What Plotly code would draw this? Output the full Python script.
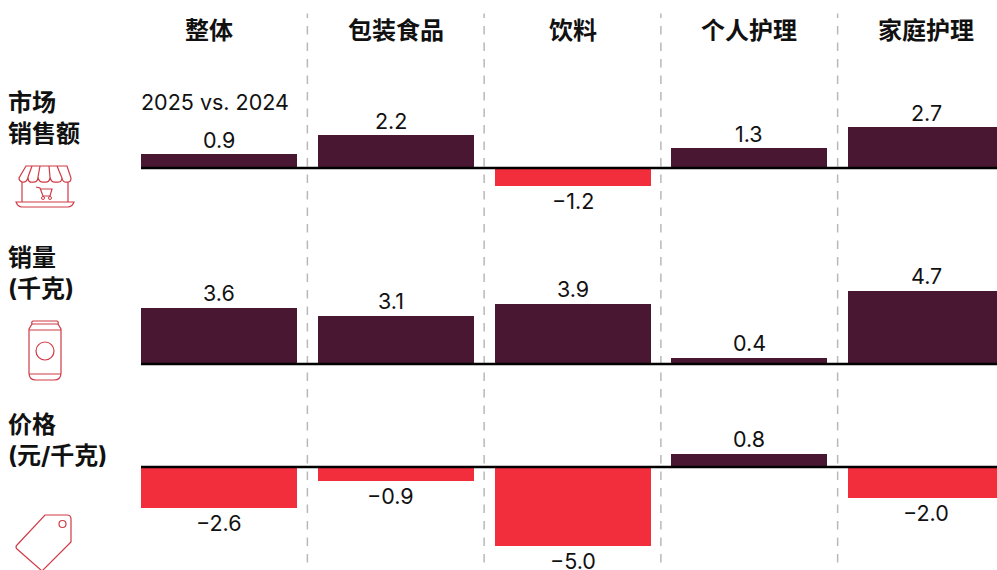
import plotly.graph_objects as go

# Chart data
categories = ["整体", "包装食品", "饮料", "个人护理", "家庭护理"]
market_sales = [0.9, 2.2, -1.2, 1.3, 2.7]
volume = [3.6, 3.1, 3.9, 0.4, 4.7]
price = [-2.6, -0.9, -5.0, 0.8, -2.0]
row_labels = ["市场<br>销售额", "销量<br>(千克)", "价格<br>(元/千克)"]
note = "2025 vs. 2024"

W, H = 997, 570
DARK, RED, ICON = "#4a1733", "#f22e3c", "#cf3a46"
LATIN = "Inter, 'Noto Sans CJK SC', sans-serif"
CJK = "'Noto Sans CJK SC', sans-serif"
INK = "#111111"
RULE = "#b8b8b8"

# Layout of the grid, in page pixels
COL_CENTER, COL_PITCH = 219.0, 176.75
PLOT_LEFT = 141
# values, band top, band bottom, baseline, pixels per unit, label offset
rows = [
    (market_sales, 60, 231, 168, 15.2, -1),
    (volume, 231, 401, 364, 15.5, 0),
    (price, 401, 570, 467, 15.7, 0),
]


def px(x, y):
    return x / W, 1 - y / H


def path(*parts):
    """Build an SVG path from commands and (x, y) page-pixel tuples."""
    out = []
    for part in parts:
        if isinstance(part, str):
            out.append(part)
        else:
            a, b = px(*part)
            out.append(f"{a:.5f},{b:.5f}")
    return " ".join(out)


def outline(d, width=1.2):
    return dict(type="path", xref="paper", yref="paper", path=d,
                line=dict(color=ICON, width=width), layer="above")


def ring(cx, cy, r, width=1.2):
    x0, y1 = px(cx - r, cy - r)
    x1, y0 = px(cx + r, cy + r)
    return dict(type="circle", xref="paper", yref="paper", x0=x0, x1=x1, y0=y0, y1=y1,
                line=dict(color=ICON, width=width), layer="above")


def fmt(v):
    return f"{v:.1f}".replace("-", "−")


fig = go.Figure()
x_idx = list(range(len(categories)))
layout_axes = {}
shapes = []
annotations = []

for i, (vals, top, bottom, zero, scale, nudge) in enumerate(rows):
    name = "" if i == 0 else str(i + 1)
    fig.add_trace(go.Bar(
        x=x_idx, y=vals, yaxis=f"y{name}",
        marker=dict(color=[DARK if v >= 0 else RED for v in vals], line_width=0),
        width=156 / COL_PITCH,
        showlegend=False, hoverinfo="skip",
    ))
    layout_axes[f"yaxis{name}"] = dict(
        domain=[1 - bottom / H, 1 - top / H],
        range=[(zero - bottom) / scale, (zero - top) / scale],
        anchor="x", visible=False, fixedrange=True,
    )
    # Baseline running from the first column to the right edge
    shapes.append(dict(type="line", xref="x domain", yref=f"y{name}", x0=0, x1=1, y0=0, y1=0,
                       line=dict(color="#000000", width=2.3), layer="above"))
    # Value labels sit just outside the bar end; the second column's are set a little left
    for j, v in enumerate(vals):
        annotations.append(dict(
            xref="x", yref=f"y{name}", x=j, y=v, text=fmt(v), showarrow=False,
            xanchor="center", yanchor="bottom" if v >= 0 else "top",
            xshift=-5 if j == 1 else 0, yshift=nudge if v >= 0 else 0,
            font=dict(family=LATIN, size=21.5, color=INK),
        ))

# Dashed separators between the columns, each opening with a short stub
for i in range(len(categories) - 1):
    shapes.append(dict(type="line", xref="x", yref="paper", x0=i + 0.5, x1=i + 0.5,
                       y0=1 - 13.5 / H, y1=1 - 18 / H,
                       line=dict(color=RULE, width=1.5), layer="below"))
    shapes.append(dict(type="line", xref="x", yref="paper", x0=i + 0.5, x1=i + 0.5,
                       y0=1 - 26 / H, y1=0,
                       line=dict(color=RULE, width=1.5, dash="8.5px,8px"), layer="below"))

# Storefront icon
shapes += [
    outline(path("M", (26, 166), "L", (67, 166), "L", (71, 178),
                 "Q", (71, 182), (68, 182), "Q", (62.5, 183), (62, 178),
                 "Q", (62, 183), (56, 182), "Q", (51, 183), (50, 177),
                 "Q", (50, 183), (44, 182), "Q", (39, 183), (38, 177),
                 "Q", (38, 183), (32, 182), "Q", (28, 183), (28, 177),
                 "Q", (27, 183), (22, 182), "Q", (19, 181), (19, 178), "Z")),
    outline(path("M", (32, 166), "L", (28, 177), "M", (40, 166), "L", (38, 177),
                 "M", (49, 166), "L", (50, 177), "M", (57, 166), "L", (62, 178))),
    outline(path("M", (22, 182), "L", (22, 202), "M", (68, 182), "L", (68, 202))),
    outline(path("M", (16, 202), "L", (74, 202), "Q", (72, 207), (68, 207), "L", (22, 207),
                 "Q", (18, 207), (16, 202), "Z")),
    outline(path("M", (36, 187), "L", (40, 188), "L", (43, 196), "L", (50, 196),
                 "L", (52, 189), "L", (41, 189))),
    ring(43, 198, 1.5, 1), ring(50, 198, 1.5, 1),
]

# Can icon
shapes += [
    outline(path("M", (33, 321), "L", (57, 321), "Q", (59, 322), (58, 324), "L", (61, 329),
                 "L", (61, 373), "Q", (61, 380), (54, 380), "L", (36, 380),
                 "Q", (29, 380), (29, 373), "L", (29, 329), "L", (32, 324),
                 "Q", (31, 322), (33, 321), "Z")),
    outline(path("M", (32, 324), "L", (58, 324), "M", (29, 330), "L", (61, 330),
                 "M", (29, 374), "L", (61, 374))),
    ring(45, 351, 9),
]

# Price tag icon
shapes += [
    outline(path("M", (45, 515), "L", (67, 515), "Q", (71, 515), (71, 519), "L", (71, 542),
                 "L", (42, 571), "L", (17, 549), "Q", (15, 547), (17, 545), "Z")),
    ring(62.5, 524, 3.5),
]

# Column headers; the first one sits left of its column centre
for i, label in enumerate(categories):
    annotations.append(dict(xref="x", yref="paper", x=i, y=1 - 28 / H, text=f"<b>{label}</b>",
                            showarrow=False, xanchor="center", yanchor="middle",
                            xshift=-10 if i == 0 else 0,
                            font=dict(family=CJK, size=24, color=INK)))
for label, y in zip(row_labels, [118, 273, 440]):
    annotations.append(dict(xref="paper", yref="paper", x=6 / W, y=1 - y / H,
                            text=f"<b>{label}</b>", showarrow=False, align="left",
                            xanchor="left", yanchor="middle",
                            font=dict(family=LATIN, size=24, color=INK)))
annotations.append(dict(xref="paper", yref="paper", x=(PLOT_LEFT - 2) / W, y=1 - 102 / H, text=note,
                        showarrow=False, xanchor="left", yanchor="middle",
                        font=dict(family=LATIN, size=21.5, color=INK)))

fig.update_layout(
    width=W, height=H, margin=dict(l=0, r=0, t=0, b=0),
    paper_bgcolor="white", plot_bgcolor="white",
    xaxis=dict(domain=[PLOT_LEFT / W, 1],
               range=[(PLOT_LEFT - COL_CENTER) / COL_PITCH, (W - COL_CENTER) / COL_PITCH],
               visible=False, fixedrange=True),
    shapes=shapes, annotations=annotations, bargap=0,
    **layout_axes,
)
fig.write_html("out.html", config=dict(displayModeBar=False))
